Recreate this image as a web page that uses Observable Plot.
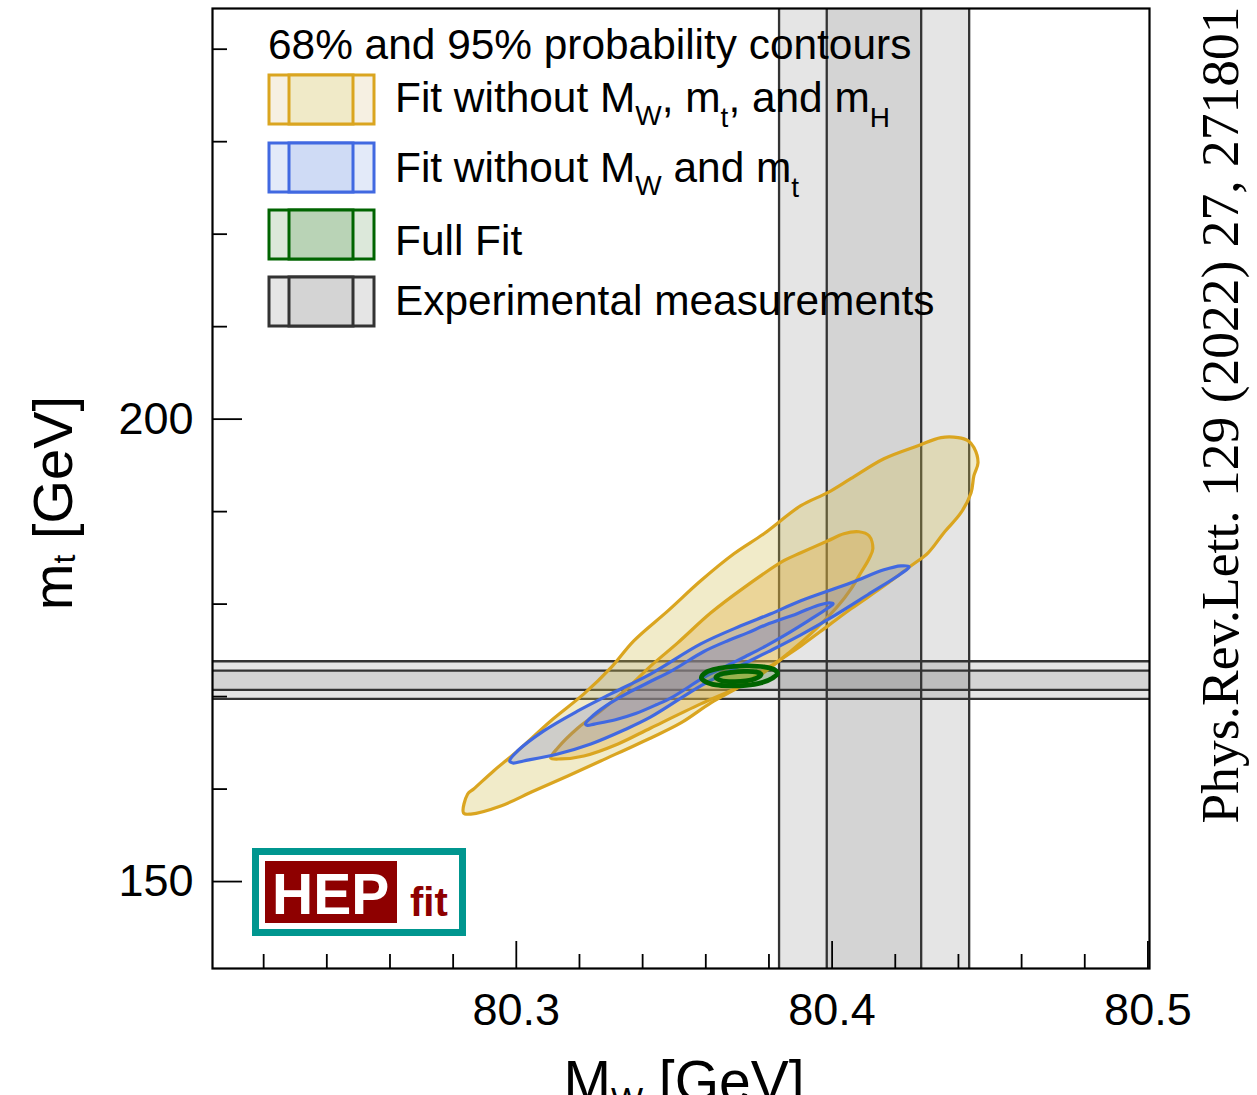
<!DOCTYPE html>
<html><head><meta charset="utf-8">
<script src="https://cdn.jsdelivr.net/npm/d3@7"></script>
<script src="https://cdn.jsdelivr.net/npm/@observablehq/plot@0.6"></script>
<style>
html,body{margin:0;padding:0;background:#fff;}
#wrap{position:relative;width:1257px;height:1095px;overflow:hidden;font-family:"Liberation Sans",Arial,Helvetica,sans-serif;}
#wrap > svg{position:absolute;left:0;top:0;}
</style></head><body><div id="wrap"></div>
<script>
// ---------------- data ----------------
const xDomain = [80.2038, 80.5005];
const yDomain = [140.6, 244.4];
const xMajorTicks = [80.3, 80.4, 80.5];
const xMinorTicks = [80.22, 80.24, 80.26, 80.28, 80.32, 80.34, 80.36, 80.38, 80.42, 80.44, 80.46, 80.48];
const yMajorTicks = [150, 200];
const yMinorTicks = [160, 170, 180, 190, 210, 220, 230, 240];

// experimental measurements (M_W and m_t bands)
const mwBand68 = [80.3983, 80.4282];
const mwBand95 = [80.3832, 80.4434];
const mtBand68 = [170.72, 172.81];
const mtBand95 = [169.75, 173.82];

// Fit without M_W, m_t and m_H
const yellow95 = [[80.2833,157.41],[80.2846,159.47],[80.2865,160.01],[80.2928,161.96],[80.3004,164.12],[80.3109,167.37],[80.3214,170.29],[80.3299,173.10],[80.3372,176.03],[80.3480,179.27],[80.3584,182.52],[80.3689,185.44],[80.3784,187.61],[80.3901,190.64],[80.3986,192.05],[80.4059,193.56],[80.4164,195.72],[80.4272,197.13],[80.4345,198.00],[80.4399,198.00],[80.4430,197.67],[80.4449,196.92],[80.4462,195.29],[80.4449,193.88],[80.4440,192.05],[80.4408,189.88],[80.4354,187.72],[80.4304,185.55],[80.4250,184.14],[80.4165,181.98],[80.4060,179.49],[80.3987,177.65],[80.3901,175.49],[80.3806,173.32],[80.3711,171.16],[80.3616,169.32],[80.3521,167.15],[80.3426,165.53],[80.3267,163.04],[80.3163,161.42],[80.3055,159.79],[80.2951,158.17],[80.2856,157.30]];
const yellow68 = [[80.3109,163.36],[80.3131,164.45],[80.3195,166.61],[80.3267,168.45],[80.3353,170.94],[80.3426,173.32],[80.3511,175.81],[80.3616,179.06],[80.3720,181.76],[80.3847,184.69],[80.3901,185.55],[80.3987,186.85],[80.4037,187.61],[80.4085,187.82],[80.4117,187.39],[80.4129,185.98],[80.4117,184.90],[80.4091,183.39],[80.4060,181.65],[80.4019,179.82],[80.3949,177.33],[80.3870,174.94],[80.3791,172.78],[80.3711,171.16],[80.3584,169.21],[80.3426,166.61],[80.3322,164.88],[80.3214,163.58],[80.3141,163.26]];
// Fit without M_W and m_t
const blue95 = [[80.2979,163.04],[80.3004,164.12],[80.3087,166.29],[80.3195,168.45],[80.3299,170.29],[80.3426,172.46],[80.3584,175.70],[80.3711,177.65],[80.3806,178.95],[80.3901,180.36],[80.4060,182.30],[80.4164,183.71],[80.4218,184.14],[80.4244,184.04],[80.4218,183.28],[80.4113,181.01],[80.4006,178.73],[80.3901,176.68],[80.3797,174.84],[80.3689,173.00],[80.3584,171.16],[80.3426,167.80],[80.3341,166.39],[80.3236,164.88],[80.3131,163.80],[80.3023,163.04],[80.2989,162.82]];
const blue68 = [[80.3219,167.03],[80.3235,167.70],[80.3286,169.05],[80.3353,170.39],[80.3418,171.52],[80.3496,172.87],[80.3594,174.88],[80.3673,176.09],[80.3732,176.89],[80.3791,177.77],[80.3889,178.97],[80.3954,179.85],[80.3987,180.12],[80.4003,180.04],[80.3987,179.58],[80.3923,178.17],[80.3856,176.76],[80.3791,175.49],[80.3726,174.34],[80.3659,173.20],[80.3594,172.07],[80.3496,169.98],[80.3443,169.11],[80.3378,168.17],[80.3314,167.50],[80.3247,167.03],[80.3225,166.89]];
// Full fit
const green95 = [[80.3586,172.02],[80.3600,171.59],[80.3632,171.26],[80.3679,171.16],[80.3727,171.21],[80.3774,171.48],[80.3812,172.02],[80.3827,172.51],[80.3816,172.94],[80.3784,173.21],[80.3737,173.32],[80.3689,173.27],[80.3641,173.05],[80.3603,172.67]];
const green68 = [[80.3632,172.08],[80.3648,171.75],[80.3686,171.62],[80.3727,171.70],[80.3759,171.97],[80.3775,172.40],[80.3759,172.67],[80.3721,172.73],[80.3680,172.62],[80.3645,172.40]];

const legendTitle = "68% and 95% probability contours";
const citation = "Phys.Rev.Lett. 129 (2022) 27, 271801";

// ---------------- chart ----------------
const W = 1257, H = 1095;
const mL = 212, mR = 108, mT = 8, mB = 127;
const innerW = W - mL - mR, innerH = H - mT - mB;

const GOLD = "#DAA520", BLUE = "#4169E1", GREEN = "#006400", GRAY = "#333333";

const chart = Plot.plot({
  width: W, height: H,
  marginLeft: mL, marginRight: mR, marginTop: mT, marginBottom: mB,
  x: {domain: xDomain, axis: null},
  y: {domain: yDomain, axis: null},
  style: {fontFamily: '"Liberation Sans", Arial, Helvetica, sans-serif', color: "black", background: "white"},
  marks: [
    // experimental bands
    Plot.rect([mwBand95], {x1: d => d[0], x2: d => d[1], y1: yDomain[0], y2: yDomain[1], fill: "black", fillOpacity: 0.1}),
    Plot.rect([mwBand68], {x1: d => d[0], x2: d => d[1], y1: yDomain[0], y2: yDomain[1], fill: "black", fillOpacity: 0.07}),
    Plot.rect([mtBand95], {y1: d => d[0], y2: d => d[1], x1: xDomain[0], x2: xDomain[1], fill: "black", fillOpacity: 0.1}),
    Plot.rect([mtBand68], {y1: d => d[0], y2: d => d[1], x1: xDomain[0], x2: xDomain[1], fill: "black", fillOpacity: 0.07}),
    Plot.ruleX([...mwBand95, ...mwBand68], {stroke: GRAY, strokeWidth: 2.3}),
    Plot.ruleY([...mtBand95, ...mtBand68], {stroke: GRAY, strokeWidth: 2.3}),
    // contours
    Plot.line(yellow95, {curve: "catmull-rom-closed", fill: "rgb(208,188,75)", fillOpacity: 0.3, stroke: GOLD, strokeWidth: 3.2}),
    Plot.line(yellow68, {curve: "catmull-rom-closed", fill: "rgb(224,168,51)", fillOpacity: 0.32, stroke: GOLD, strokeWidth: 3.2}),
    Plot.line(blue95, {curve: "catmull-rom-closed", fill: "rgb(80,100,200)", fillOpacity: 0.22, stroke: BLUE, strokeWidth: 3.2}),
    Plot.line(blue68, {curve: "catmull-rom-closed", fill: "rgb(80,100,200)", fillOpacity: 0.22, stroke: BLUE, strokeWidth: 3.2}),
    Plot.line(green95, {curve: "catmull-rom-closed", fill: "rgb(60,140,40)", fillOpacity: 0.25, stroke: GREEN, strokeWidth: 4.8}),
    Plot.line(green68, {curve: "catmull-rom-closed", fill: "rgb(120,180,40)", fillOpacity: 0.45, stroke: GREEN, strokeWidth: 4.8}),
    // ticks (inside the frame)
    Plot.ruleX(xMinorTicks, {insetTop: innerH - 14, stroke: "black", strokeWidth: 1.8}),
    Plot.ruleX(xMajorTicks, {insetTop: innerH - 27, stroke: "black", strokeWidth: 1.8}),
    Plot.ruleY(yMinorTicks, {insetRight: innerW - 15, stroke: "black", strokeWidth: 1.8}),
    Plot.ruleY(yMajorTicks, {insetRight: innerW - 30, stroke: "black", strokeWidth: 1.8}),
    // tick labels
    Plot.text(xMajorTicks, {x: d => d, frameAnchor: "bottom", lineAnchor: "middle", dy: 42, text: d => d.toFixed(1), fontSize: 45, fill: "black"}),
    Plot.text(yMajorTicks, {y: d => d, frameAnchor: "left", lineAnchor: "middle", dx: -19, textAnchor: "end", text: d => String(d), fontSize: 45, fill: "black"}),
    Plot.frame({stroke: "black", strokeWidth: 2.2})
  ]
});
document.getElementById("wrap").appendChild(chart);

// ---------------- overlay: legend, titles, logo, citation ----------------
function swatch(top, stroke, outerFill, innerFill) {
  return `<rect x="269" y="${top}" width="105" height="49" fill="${outerFill}" stroke="${stroke}" stroke-width="3"/>
          <rect x="289" y="${top}" width="64" height="49" fill="${innerFill}" stroke="${stroke}" stroke-width="3"/>`;
}
const ov = `
<svg width="${W}" height="${H}" xmlns="http://www.w3.org/2000/svg" style="font-family:'Liberation Sans',Arial,Helvetica,sans-serif">
  <text x="268" y="59" font-size="42.4">${legendTitle}</text>
  ${swatch(75, GOLD, "#F6F0E2", "#F0EAC8")}
  ${swatch(143, BLUE, "#E3EAF9", "#CFDBF5")}
  ${swatch(210, GREEN, "#DCE8DA", "#B9D3B6")}
  ${swatch(277, GRAY, "#E5E5E5", "#D4D4D4")}
  <text x="395" y="112" font-size="42.4">Fit without M<tspan font-size="28" dy="13">W</tspan><tspan dy="-13">, m</tspan><tspan font-size="28" dy="15">t</tspan><tspan dy="-15">, and m</tspan><tspan font-size="28" dy="15">H</tspan></text>
  <text x="395" y="182" font-size="42.4">Fit without M<tspan font-size="28" dy="13">W</tspan><tspan dy="-13"> and m</tspan><tspan font-size="28" dy="15">t</tspan></text>
  <text x="395" y="255" font-size="42.4">Full Fit</text>
  <text x="395" y="315" font-size="42.4">Experimental measurements</text>

  <text transform="translate(72,503) rotate(-90)" text-anchor="middle" font-size="56">m<tspan font-size="32" dy="3">t</tspan><tspan dy="-3"> [GeV]</tspan></text>
  <text x="684" y="1101" text-anchor="middle" font-size="57">M<tspan font-size="34" dy="10">W</tspan><tspan dy="-10"> [GeV]</tspan></text>

  <text transform="translate(1238,415) rotate(-90)" text-anchor="middle" font-size="53.5" font-family="'Liberation Serif','Times New Roman',serif">${citation}</text>

  <rect x="255.5" y="851.5" width="207" height="81" fill="white" stroke="#00968F" stroke-width="7"/>
  <rect x="265" y="861" width="132" height="62" fill="#8E0000"/>
  <text x="272" y="914" font-size="57" font-weight="bold" fill="white">HEP</text>
  <text x="410" y="916" font-size="40" font-weight="bold" fill="#8E0000">fit</text>
</svg>`;
document.getElementById("wrap").insertAdjacentHTML("beforeend", ov);
</script>
</body></html>
